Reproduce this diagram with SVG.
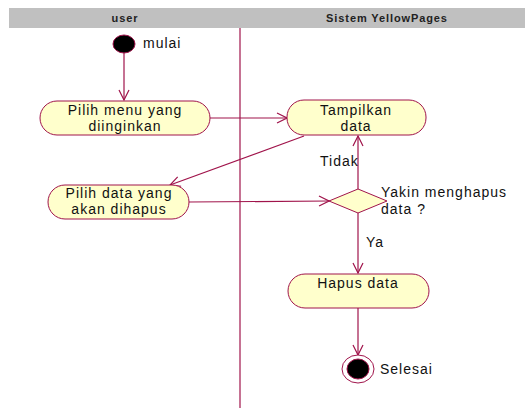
<svg xmlns="http://www.w3.org/2000/svg" width="525" height="408" viewBox="0 0 525 408">
  <style>
    .lane { fill: #c0c0c0; }
    .hdr { font-family: "Liberation Sans", Arial, sans-serif; font-size: 11px; font-weight: bold; letter-spacing: 0.9px; fill: #222; text-anchor: middle; }
    .act { fill: #ffffcc; stroke: #a0144b; stroke-width: 1; }
    .txt { font-family: "Liberation Sans", Arial, sans-serif; font-size: 14px; letter-spacing: 1px; fill: #111; }
    .mid { text-anchor: middle; }
    .edge { fill: none; stroke: #a0144b; stroke-width: 1.2; }
    .div { stroke: #a0144b; stroke-width: 1.2; }
  </style>
  <defs>
    <marker id="open" viewBox="0 0 12 12" refX="11" refY="6" markerWidth="12" markerHeight="12" markerUnits="userSpaceOnUse" orient="auto">
      <path d="M1,1 L11,6 L1,11" fill="none" stroke="#a0144b" stroke-width="1.2"/>
    </marker>
  </defs>

  <rect width="525" height="408" fill="#ffffff"/>

  <!-- swimlane headers -->
  <g id="lanes">
    <rect class="lane" x="9" y="8" width="516" height="20"/>
    <text class="hdr" x="125" y="22">user</text>
    <text class="hdr" x="387" y="22">Sistem YellowPages</text>
    <line class="div" x1="240" y1="28" x2="240" y2="408"/>
  </g>

  <!-- connectors -->
  <g id="connectors">
    <line class="edge" x1="124" y1="53" x2="124" y2="100" marker-end="url(#open)"/>
    <line class="edge" x1="210" y1="118" x2="287" y2="118" marker-end="url(#open)"/>
    <line class="edge" x1="304" y1="136" x2="170" y2="185" marker-end="url(#open)"/>
    <line class="edge" x1="189" y1="202" x2="329" y2="201" marker-end="url(#open)"/>
    <line class="edge" x1="358" y1="189" x2="358" y2="136" marker-end="url(#open)"/>
    <line class="edge" x1="358" y1="213" x2="358" y2="273" marker-end="url(#open)"/>
    <line class="edge" x1="358" y1="308" x2="358" y2="355" marker-end="url(#open)"/>
    <text class="txt" x="320" y="166">Tidak</text>
    <text class="txt" x="366" y="247">Ya</text>
  </g>

  <g id="start">
    <ellipse cx="124" cy="44" rx="11" ry="9" fill="#000" stroke="#a0144b" stroke-width="1"/>
    <text class="txt" x="143" y="48">mulai</text>
  </g>

  <g id="pilih-menu">
    <rect class="act" x="40" y="101" width="170" height="34" rx="17"/>
    <text class="txt mid" x="125" y="115">Pilih menu yang</text>
    <text class="txt mid" x="125" y="131">diinginkan</text>
  </g>

  <g id="pilih-data">
    <rect class="act" x="48" y="185" width="141" height="34" rx="17"/>
    <text class="txt mid" x="119" y="198">Pilih data yang</text>
    <text class="txt mid" x="119" y="214">akan dihapus</text>
  </g>

  <g id="tampilkan">
    <rect class="act" x="287" y="100" width="139" height="35" rx="17"/>
    <text class="txt mid" x="356" y="115">Tampilkan</text>
    <text class="txt mid" x="356" y="131">data</text>
  </g>

  <g id="keputusan">
    <polygon class="act" points="358,189 387,201 358,213 329,201"/>
    <text class="txt" x="381" y="197">Yakin menghapus</text>
    <text class="txt" x="381" y="214">data ?</text>
  </g>

  <g id="hapus">
    <rect class="act" x="288" y="274" width="141" height="34" rx="17"/>
    <text class="txt mid" x="358" y="288">Hapus data</text>
  </g>

  <g id="selesai">
    <ellipse cx="358" cy="369" rx="16" ry="14" fill="#fff" stroke="#a0144b" stroke-width="1"/>
    <ellipse cx="358" cy="369" rx="11" ry="10" fill="#000" stroke="#a0144b" stroke-width="1"/>
    <text class="txt" x="380" y="374">Selesai</text>
  </g>
</svg>
